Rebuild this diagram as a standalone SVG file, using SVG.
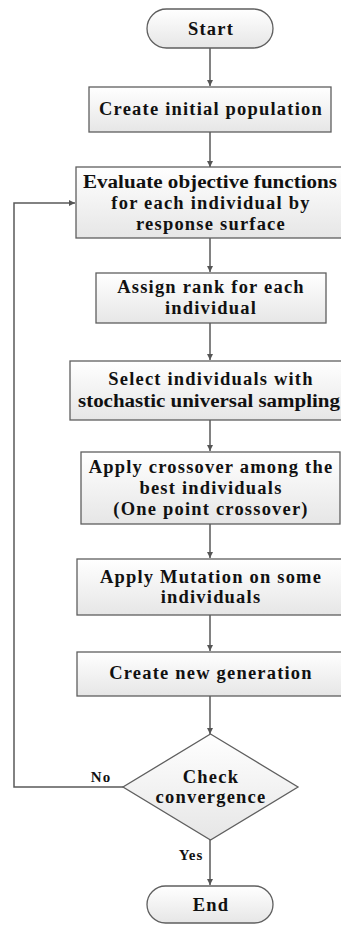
<svg xmlns="http://www.w3.org/2000/svg" width="341" height="925" viewBox="0 0 341 925">
<style>
.box{fill:url(#g);stroke:#5f5f5f;stroke-width:1.3}
.t{font-family:"Liberation Serif","Times New Roman",serif;font-weight:bold;font-size:18.5px;letter-spacing:1.2px;text-anchor:middle;fill:#111}
.s{font-family:"Liberation Serif","Times New Roman",serif;font-weight:bold;font-size:15px;letter-spacing:1px;text-anchor:middle;fill:#111}
.c{fill:none;stroke:#595959;stroke-width:1.5}
</style>
<defs>
<linearGradient id="g" x1="0" y1="0" x2="0" y2="1">
<stop offset="0" stop-color="#ffffff"/>
<stop offset="1" stop-color="#e6e6e6"/>
</linearGradient>
<marker id="a" viewBox="0 0 10 10" refX="10" refY="5" markerWidth="6" markerHeight="6" markerUnits="userSpaceOnUse" orient="auto">
<path d="M0,0 L10,5 L0,10 z" fill="#555"/>
</marker>
</defs>
<g id="connectors">
<path class="c" d="M210,48 V86" marker-end="url(#a)"/>
<path class="c" d="M210,132 V167" marker-end="url(#a)"/>
<path class="c" d="M210,238 V272" marker-end="url(#a)"/>
<path class="c" d="M210,323 V360" marker-end="url(#a)"/>
<path class="c" d="M210,420 V451" marker-end="url(#a)"/>
<path class="c" d="M210,524 V558" marker-end="url(#a)"/>
<path class="c" d="M210,615 V651" marker-end="url(#a)"/>
<path class="c" d="M210,696 V734" marker-end="url(#a)"/>
<path class="c" d="M210,840 V885" marker-end="url(#a)"/>
<path class="c" d="M123,787 H14 V203 H75" marker-end="url(#a)"/>
<text class="s" x="101" y="782">No</text>
<text class="s" x="191" y="860">Yes</text>
</g>
<g id="start">
<rect class="box" x="147" y="9" width="126" height="39" rx="19.5"/>
<text class="t" x="211" y="35">Start</text>
</g>
<g id="init">
<rect class="box" x="89" y="87" width="242" height="45"/>
<text class="t" x="211" y="115">Create initial population</text>
</g>
<g id="evaluate">
<rect class="box" x="76" y="167" width="268" height="71"/>
<text class="t" x="210" y="188" textLength="254" lengthAdjust="spacingAndGlyphs" style="letter-spacing:0">Evaluate objective functions</text>
<text class="t" x="211" y="209">for each individual by</text>
<text class="t" x="211" y="230">response surface</text>
</g>
<g id="rank">
<rect class="box" x="96" y="273" width="230" height="50"/>
<text class="t" x="211" y="293">Assign rank for each</text>
<text class="t" x="211" y="314">individual</text>
</g>
<g id="select">
<rect class="box" x="70" y="361" width="280" height="59"/>
<text class="t" x="211" y="385">Select individuals with</text>
<text class="t" x="209" y="407" textLength="262" lengthAdjust="spacingAndGlyphs" style="letter-spacing:0">stochastic universal sampling</text>
</g>
<g id="crossover">
<rect class="box" x="81" y="452" width="259" height="72"/>
<text class="t" x="211" y="473">Apply crossover among the</text>
<text class="t" x="211" y="494">best individuals</text>
<text class="t" x="211" y="515">(One point crossover)</text>
</g>
<g id="mutation">
<rect class="box" x="77" y="559" width="266" height="56"/>
<text class="t" x="211" y="583">Apply Mutation on some</text>
<text class="t" x="211" y="603">individuals</text>
</g>
<g id="newgen">
<rect class="box" x="77" y="652" width="266" height="44"/>
<text class="t" x="211" y="679">Create new generation</text>
</g>
<g id="check">
<path class="box" d="M210.5,734 L298,787 L210.5,840 L123,787 Z"/>
<text class="t" x="211" y="783">Check</text>
<text class="t" x="211" y="803">convergence</text>
</g>
<g id="end">
<rect class="box" x="147" y="886" width="126" height="37" rx="18.5"/>
<text class="t" x="211" y="911">End</text>
</g>
</svg>
